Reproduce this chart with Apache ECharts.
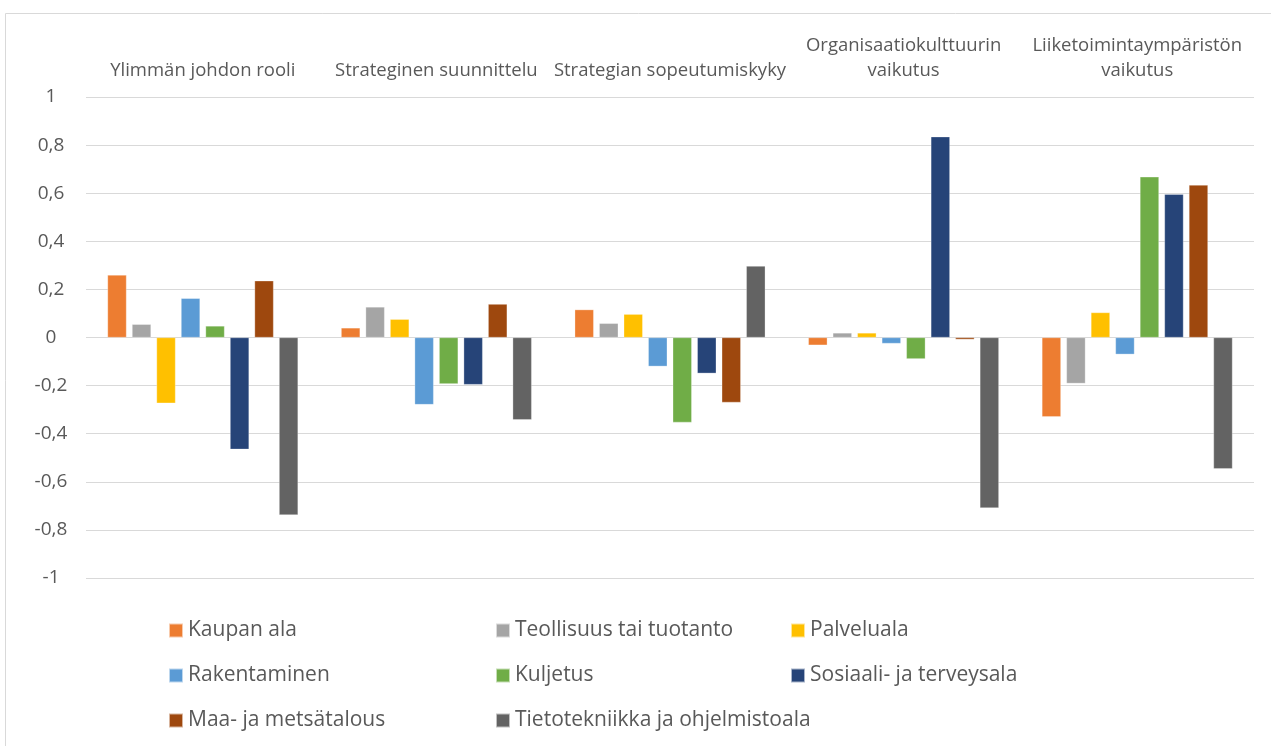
<!DOCTYPE html>
<html>
<head>
<meta charset="utf-8">
<script src="https://cdn.jsdelivr.net/npm/echarts@6/dist/echarts.min.js"></script>
<style>
  html, body { margin: 0; padding: 0; background: #fff; }
  #chart { width: 1271px; height: 746px; }
</style>
</head>
<body>
<div id="chart"></div>
<script>
// kategoriat (x-akseli ylhäällä)
const categories = [
    'Ylimmän johdon rooli',
    'Strateginen suunnittelu',
    'Strategian sopeutumiskyky',
    'Organisaatiokulttuurin\nvaikutus',
    'Liiketoimintaympäristön\nvaikutus'
];

const seriesNames = [
    'Kaupan ala', 'Teollisuus tai tuotanto', 'Palveluala',
    'Rakentaminen', 'Kuljetus', 'Sosiaali- ja terveysala',
    'Maa- ja metsätalous', 'Tietotekniikka ja ohjelmistoala'
];

const colors = ['#ED7D31', '#A5A5A5', '#FFC000', '#5B9BD5', '#70AD47', '#264478', '#9E480E', '#636363'];

// arvot kategorioittain
const kaupanAla = [0.26, 0.04, 0.116, -0.032, -0.33];
const teollisuus = [0.055, 0.127, 0.059, 0.019, -0.191];
const palveluala = [-0.273, 0.076, 0.097, 0.019, 0.104];
const rakentaminen = [0.163, -0.279, -0.12, -0.025, -0.07];
const kuljetus = [0.048, -0.193, -0.353, -0.089, 0.668];
const sosiaali = [-0.465, -0.196, -0.149, 0.835, 0.596];
const maaMetsa = [0.236, 0.139, -0.27, -0.008, 0.634];
const tietotekniikka = [-0.738, -0.342, 0.297, -0.709, -0.546];

const yTicks = { min: -1, max: 1, interval: 0.2 };

const seriesData = [kaupanAla, teollisuus, palveluala, rakentaminen, kuljetus, sosiaali, maaMetsa, tietotekniikka];

const textColor = '#595959';
const font = '"Open Sans", sans-serif';

// yksi legendan sarake
function legendColumn(left, names) {
    return {
        orient: 'vertical',
        left: left,
        top: 620,
        height: 126,
        padding: 0,
        itemWidth: 14,
        itemHeight: 14,
        itemGap: 24,
        icon: 'rect',
        data: names,
        textStyle: { color: textColor, fontSize: 21, lineHeight: 21, fontFamily: font }
    };
}

const chart = echarts.init(document.getElementById('chart'));

const option = {
    animation: false,
    color: colors,
    grid: { left: 86, right: 17, top: 97, bottom: 168 },
    graphic: [{
        type: 'rect',
        shape: { x: 5.5, y: 13.5, width: 1400, height: 900 },
        style: { fill: 'none', stroke: '#D9D9D9', lineWidth: 1 },
        silent: true
    }],
    legend: [
        legendColumn(168, [seriesNames[0], seriesNames[3], seriesNames[6]]),
        legendColumn(495, [seriesNames[1], seriesNames[4], seriesNames[7]]),
        legendColumn(790, [seriesNames[2], seriesNames[5]])
    ],
    xAxis: {
        type: 'category',
        position: 'top',
        data: categories,
        axisLine: { show: false },
        axisTick: { show: false },
        axisLabel: {
            interval: 0,
            margin: 14,
            color: textColor,
            fontSize: 18.5,
            lineHeight: 25,
            fontFamily: font
        }
    },
    yAxis: {
        type: 'value',
        min: yTicks.min,
        max: yTicks.max,
        interval: yTicks.interval,
        axisLine: { show: false },
        axisTick: { show: false },
        splitLine: { lineStyle: { color: '#D9D9D9', width: 1 } },
        axisLabel: {
            align: 'center',
            margin: 35,
            color: textColor,
            fontSize: 19,
            fontFamily: font,
            formatter: v => String(Math.round(v * 10) / 10).replace('.', ',')
        }
    },
    series: seriesNames.map((name, i) => ({
        name: name,
        type: 'bar',
        data: seriesData[i],
        barWidth: 19,
        barGap: '29%',
        itemStyle: { borderColor: 'rgba(255,255,255,0.6)', borderWidth: 0.5 }
    }))
};

chart.setOption(option);
</script>
</body>
</html>
